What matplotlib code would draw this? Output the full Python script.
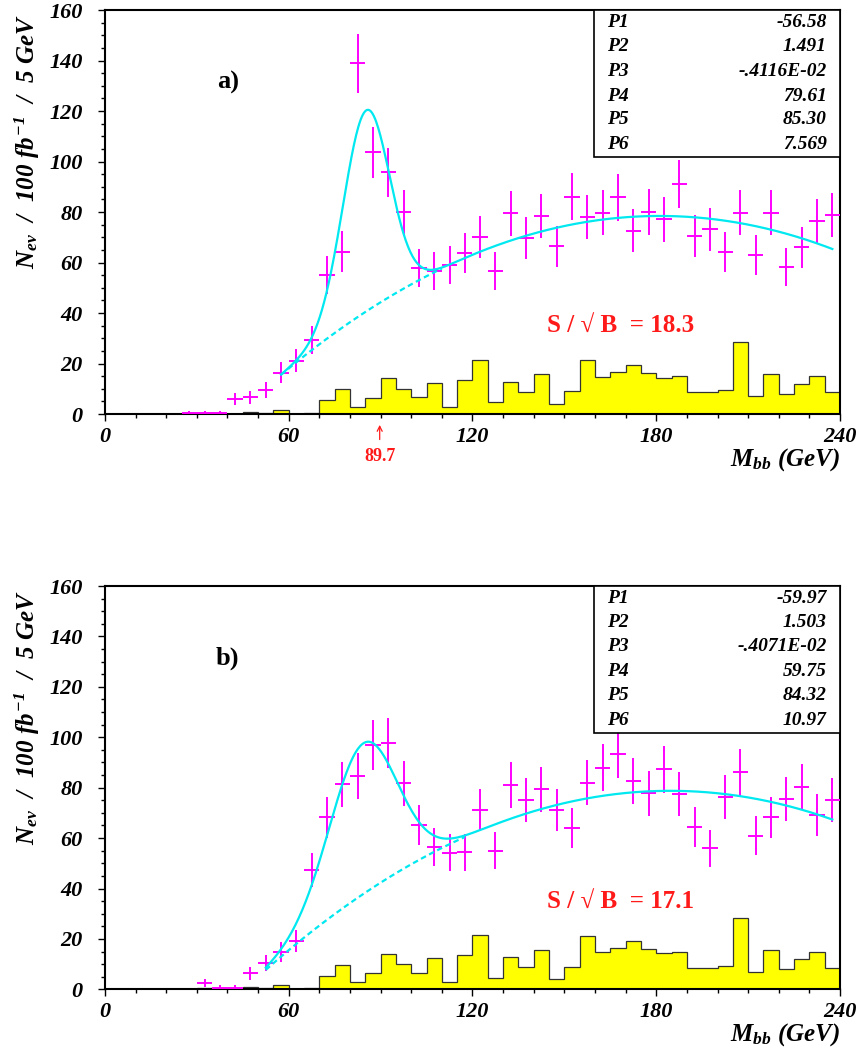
import numpy as np
import matplotlib
matplotlib.use('Agg')
import matplotlib.pyplot as plt
from matplotlib.patches import Rectangle

plt.rcParams['font.family'] = ['Liberation Serif', 'DejaVu Serif']
plt.rcParams['mathtext.fontset'] = 'custom'
plt.rcParams['mathtext.rm'] = 'Liberation Serif:bold:italic'
plt.rcParams['mathtext.it'] = 'Liberation Serif:bold:italic'
plt.rcParams['mathtext.bf'] = 'Liberation Serif:bold:italic'

# bin edges (5 GeV bins) and the yellow histogram, same in both panels
bin_edges = np.arange(0, 245, 5)
hist_vals = [0, 0, 0, 0, 0, 0, 0.5, 0, 0, 0.8, 0.5, 1.7, 0, 0.5, 5.4, 9.8,
             2.8, 6.5, 14.1, 9.9, 6.6, 12.3, 2.8, 13.6, 21.4, 4.6, 12.7, 8.7,
             15.7, 4.0, 9.0, 21.3, 14.8, 16.5, 19.3, 16.1, 14.3, 14.9, 8.6, 8.6,
             9.4, 28.4, 7.0, 15.8, 7.9, 11.9, 14.9, 8.6]

# panel a) data points
mass_a = np.arange(27.5, 240, 5)
nev_a = [0.6, 0.6, 0.6, 5.8, 6.6, 9.5, 16.4, 21.1, 29.3, 55.0, 64.3, 138.9,
         103.6, 95.7, 79.9, 57.9, 56.8, 59.0, 63.9, 70.0, 56.8, 79.5, 69.8,
         78.4, 66.5, 86.1, 78.1, 79.7, 85.8, 72.6, 80.0, 77.1, 91.0, 70.5,
         73.1, 64.2, 79.7, 63.0, 79.7, 58.3, 66.0, 76.5, 78.8]
par_a = [-56.58, 1.491, -0.4116e-2, 79.61, 85.30, 7.569]
par_a_txt = ['-56.58', '1.491', '-.4116E-02', '79.61', '85.30', '7.569']
fit_a = (57.5, 237.5)
bkg_a = (57.5, 110.0)
sb_a = '18.3'

# panel b) data points
mass_b = np.arange(32.5, 240, 5)
nev_b = [2.5, 0.7, 0.7, 6.3, 10.3, 14.9, 19.2, 47.3, 68.2, 81.3, 84.6, 96.9,
         97.6, 81.7, 65.2, 56.6, 54.2, 54.3, 71.1, 55.0, 81.0, 75.1, 79.3,
         71.1, 63.9, 82.0, 87.9, 93.3, 82.7, 77.7, 87.3, 77.5, 64.5, 55.9,
         76.4, 86.1, 61.0, 68.2, 75.4, 80.4, 69.1, 75.1]
par_b = [-59.97, 1.503, -0.4071e-2, 59.75, 84.32, 10.97]
par_b_txt = ['-59.97', '1.503', '-.4071E-02', '59.75', '84.32', '10.97']
fit_b = (52.5, 237.5)
bkg_b = (52.5, 117.5)
sb_b = '17.1'

MAGENTA = '#FF00FF'
CYAN = '#00E8F0'
RED = '#FF1A1A'


def background(x, p):
    return p[0] + p[1] * x + p[2] * x ** 2


def fitfunc(x, p):
    return background(x, p) + p[3] * np.exp(-0.5 * ((x - p[4]) / p[5]) ** 2)


def draw_panel(ax, mass, nev, par, par_txt, fit_rng, bkg_rng, sb, tag):
    ax.stairs(hist_vals, bin_edges, fill=True, color='#FFFF00', zorder=1)
    ax.stairs(hist_vals, bin_edges, color='#333333', lw=0.9, zorder=2)

    nev = np.array(nev)
    ax.errorbar(mass, nev, xerr=2.5, yerr=np.sqrt(nev), fmt='none',
                ecolor=MAGENTA, elinewidth=1.4, capsize=0, zorder=3)

    xb = np.linspace(bkg_rng[0], bkg_rng[1], 200)
    ax.plot(xb, background(xb, par), color=CYAN, lw=1.6, ls=(0, (2.5, 1.6)), zorder=4)
    xf = np.linspace(fit_rng[0], fit_rng[1], 500)
    ax.plot(xf, fitfunc(xf, par), color=CYAN, lw=1.6, zorder=4)

    ax.set_xlim(0, 240)
    ax.set_ylim(0, 160)
    ax.set_xticks([0, 60, 120, 180, 240], labels=['0', '60', '120', '180', '240'],
                  fontsize=16, fontweight='bold', fontstyle='italic')
    ax.set_xticks(np.arange(0, 241, 10), minor=True)
    ax.set_yticks(np.arange(0, 161, 20), labels=[str(v) for v in range(0, 161, 20)],
                  fontsize=16, fontweight='bold', fontstyle='italic')
    ax.set_yticks(np.arange(0, 161, 5), minor=True)
    ax.tick_params(axis='x', which='major', direction='out', length=5, width=1, pad=4)
    ax.tick_params(axis='y', which='major', direction='out', length=5, width=1, pad=11)
    ax.tick_params(which='minor', direction='out', length=3, width=1)
    for sp in ax.spines.values():
        sp.set_linewidth(1.5)

    # parameter box
    ax.add_patch(Rectangle((0.665, 0.636), 0.335, 0.364, transform=ax.transAxes,
                           facecolor='white', edgecolor='black', lw=1.2, zorder=5))
    rows_y = [0.968, 0.909, 0.849, 0.787, 0.728, 0.667]
    for i, (yy, val) in enumerate(zip(rows_y, par_txt)):
        ax.text(0.683, yy, 'P%d' % (i + 1), transform=ax.transAxes, fontsize=14,
                fontweight='bold', fontstyle='italic', ha='left', va='center', zorder=6)
        ax.text(0.982, yy, val, transform=ax.transAxes, fontsize=14,
                fontweight='bold', fontstyle='italic', ha='right', va='center', zorder=6)

    ax.text(0.167, 0.82, tag, transform=ax.transAxes, fontsize=19,
            fontweight='bold', ha='center', va='center')
    ax.text(0.702, 0.219, 'S / \u221a B  = ' + sb, transform=ax.transAxes,
            fontsize=18, fontweight='bold', color=RED, ha='center', va='center')

    ax.text(-0.105, 0.99, r'$N_{ev}\ \ /\ \ 100\ fb^{-1}\ \ /\ \ 5\ GeV$',
            transform=ax.transAxes, rotation=90, fontsize=18, ha='center', va='top')
    ax.text(1.0, -0.113, r'$M_{bb}\ (GeV)$', transform=ax.transAxes,
            fontsize=18, ha='right', va='center')


fig = plt.figure(figsize=(8.59, 10.57), dpi=100)
ax_a = fig.add_axes([0.1222, 0.6083, 0.8557, 0.3822])
ax_b = fig.add_axes([0.1222, 0.0640, 0.8557, 0.3816])

draw_panel(ax_a, mass_a, nev_a, par_a, par_a_txt, fit_a, bkg_a, sb_a, 'a)')
draw_panel(ax_b, mass_b, nev_b, par_b, par_b_txt, fit_b, bkg_b, sb_b, 'b)')

# peak position marker under panel a)
ax_a.annotate('', xy=(89.7, -0.02), xytext=(89.7, -0.07),
              xycoords=('data', 'axes fraction'), textcoords=('data', 'axes fraction'),
              arrowprops=dict(arrowstyle='->', color=RED, lw=0.9, mutation_scale=9),
              annotation_clip=False)
ax_a.text(89.7, -0.106, '89.7', transform=ax_a.get_xaxis_transform(), fontsize=13,
          fontweight='bold', color=RED, ha='center', va='center')

fig.savefig('out.png', dpi=100)
